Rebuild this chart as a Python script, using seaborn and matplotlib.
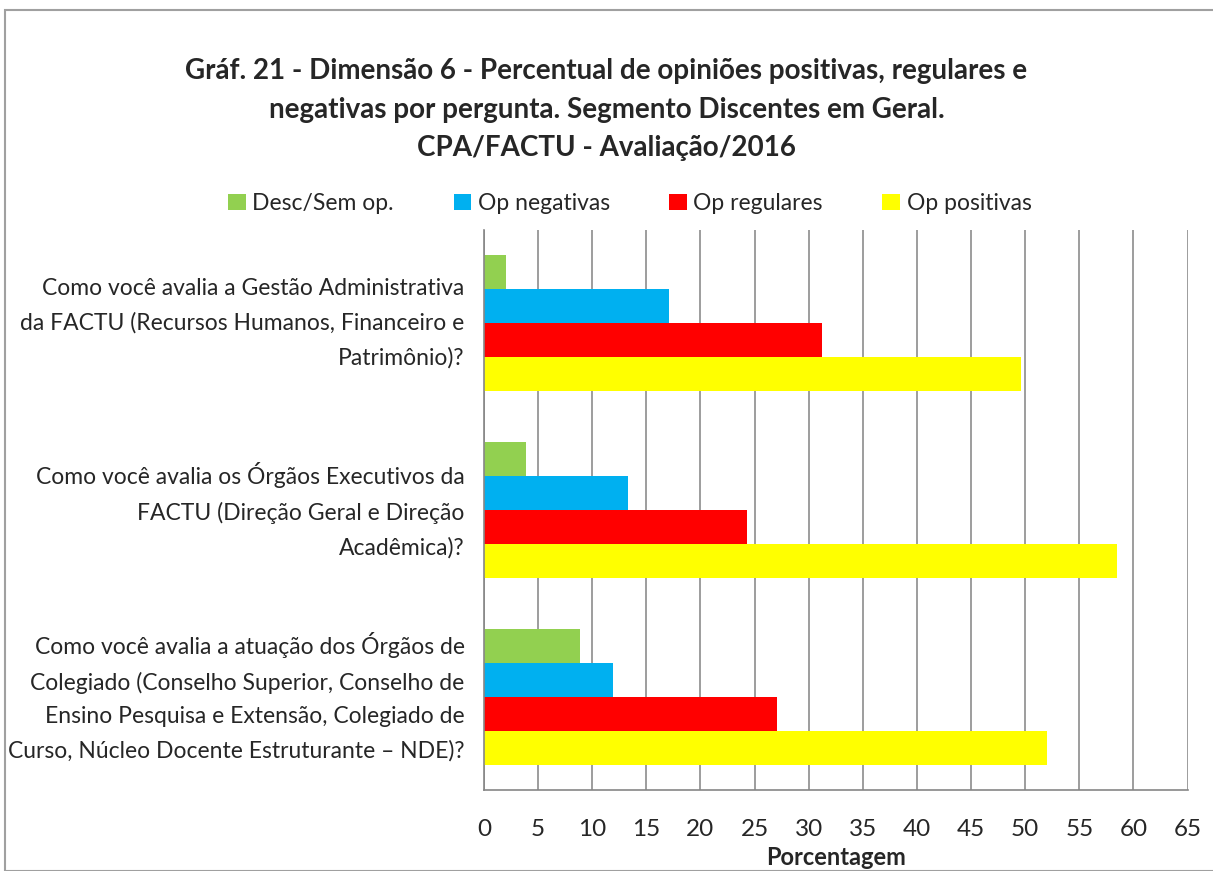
import matplotlib
matplotlib.use("Agg")
import matplotlib.pyplot as plt
import matplotlib.transforms as mtransforms
import seaborn as sns
import pandas as pd
from matplotlib.patches import Rectangle

perguntas = [
    "Como você avalia a Gestão Administrativa\nda FACTU (Recursos Humanos, Financeiro e\nPatrimônio)?",
    "Como você avalia os Órgãos Executivos da\nFACTU (Direção Geral e Direção\nAcadêmica)?",
    "Como você avalia a atuação dos Órgãos de\nColegiado (Conselho Superior, Conselho de\nEnsino Pesquisa e Extensão, Colegiado de\nCurso, Núcleo Docente Estruturante – NDE)?",
]
series = ["Desc/Sem op.", "Op negativas", "Op regulares", "Op positivas"]
desc = [2.0, 3.9, 8.9]
negativas = [17.1, 13.3, 11.9]
regulares = [31.2, 24.3, 27.1]
positivas = [49.6, 58.5, 52.0]
cores = ["#92D050", "#00B0F0", "#FF0000", "#FFFF00"]

linhas = []
for i, p in enumerate(perguntas):
    for s, vals in zip(series, [desc, negativas, regulares, positivas]):
        linhas.append({"pergunta": p, "serie": s, "valor": vals[i]})
df = pd.DataFrame(linhas)

sns.set_theme(style="white")
plt.rcParams["font.family"] = ["Lato", "DejaVu Sans"]

fig = plt.figure(figsize=(12.13, 8.71), dpi=100)
ax = fig.add_axes([0.399, 0.093, 0.58, 0.643])

sns.barplot(data=df, y="pergunta", x="valor", hue="serie", hue_order=series,
            palette=cores, orient="h", width=0.73, saturation=1,
            edgecolor="none", ax=ax, legend=True)

ax.set_xlim(0, 65)
ax.set_xticks(range(0, 66, 5))
ax.set_ylim(2.5, -0.5)
ax.set_yticks([0, 1, 2])
ax.set_yticks([-0.5, 0.5, 1.5, 2.5], minor=True)
ax.tick_params(axis="y", which="major", length=0, labelsize=16.5, pad=14)
ax.tick_params(axis="y", which="minor", length=7, color="#868686", width=1.2, direction="out")
ax.tick_params(axis="x", length=7, color="#868686", width=1.2, direction="out", labelsize=17.5, pad=14)
# sobe um pouco os rótulos das perguntas
desloc = mtransforms.ScaledTranslation(0, 6 / 72, fig.dpi_scale_trans)
for lbl in ax.get_yticklabels():
    lbl.set_horizontalalignment("right")
    lbl.set_multialignment("right")
    lbl.set_linespacing(1.75)
    lbl.set_transform(lbl.get_transform() + desloc)

ax.grid(axis="x", color="#8C8C8C", linewidth=1.2)
ax.set_axisbelow(True)
for s in ["top", "right"]:
    ax.spines[s].set_visible(False)
for s in ["left", "bottom"]:
    ax.spines[s].set_color("#868686")
    ax.spines[s].set_linewidth(1.2)

ax.set_ylabel("")
ax.set_xlabel("Porcentagem", fontsize=17, fontweight="bold", labelpad=4)

handles, labels = ax.get_legend_handles_labels()
ax.legend(handles, labels, loc="lower center", bbox_to_anchor=(0.2074, 1.0),
          ncol=4, frameon=False, fontsize=16.5, handlelength=0.75, handleheight=0.75,
          handletextpad=0.3, columnspacing=2.6, borderaxespad=0.3)

fig.text(0.5, 0.874,
         "Gráf. 21 - Dimensão 6 - Percentual de opiniões positivas, regulares e\n"
         "negativas por pergunta. Segmento Discentes em Geral.\n"
         "CPA/FACTU - Avaliação/2016",
         ha="center", va="center", fontsize=20, fontweight="bold", linespacing=1.6)

fig.patches.append(Rectangle((5 / 1213, 0), 1.2, 1 - 10 / 871, transform=fig.transFigure,
                             fill=False, edgecolor="#A0A0A0", linewidth=1.5))

fig.savefig("out.png", dpi=100)
